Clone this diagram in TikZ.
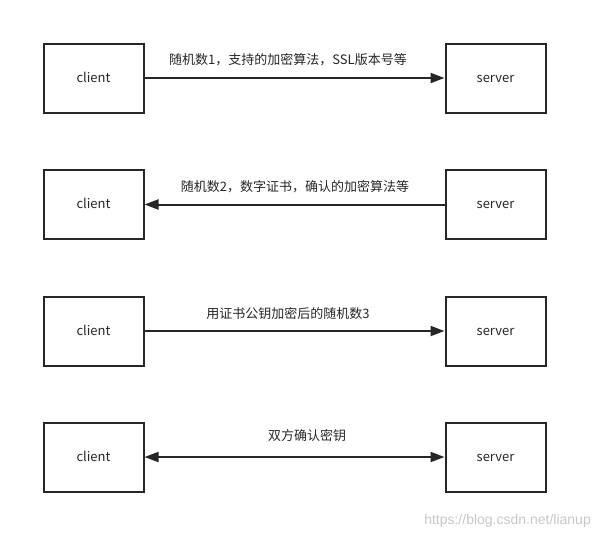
\documentclass[tikz,border=0pt]{standalone}
\usepackage{fontspec}
\setmainfont{Noto Sans CJK SC}
\newfontfamily\wmfont{Liberation Sans}
\usetikzlibrary{arrows.meta}
\begin{document}
\begin{tikzpicture}[x=1pt,y=-1pt,
  box/.style={draw=black!85,line width=2pt,minimum width=100pt,minimum height=69pt,inner sep=0pt,text height=9.5pt,text depth=1pt,font=\fontsize{13}{15}\selectfont,text=black!85},
  msg/.style={draw=black!85,line width=2pt,-{Triangle[length=14pt,width=10pt]}},
  lbl/.style={font=\fontsize{13}{15}\selectfont,text=black!85,inner sep=0pt}]
\useasboundingbox (0,0) rectangle (596,538);
% row 1
\node[box] (c1) at (93.5,78) {client};
\node[box] (s1) at (495.5,78) {server};
\draw[msg] (c1) -- (s1);
\node[lbl] (l1) at (288,60) {随机数1，支持的加密算法，SSL版本号等};
% row 2
\node[box] (c2) at (93.5,204.5) {client};
\node[box] (s2) at (495.5,204.5) {server};
\draw[msg] (s2) -- (c2);
\node[lbl] (l2) at (295,187) {随机数2，数字证书，确认的加密算法等};
% row 3
\node[box] (c3) at (93.5,331) {client};
\node[box] (s3) at (495.5,331) {server};
\draw[msg] (c3) -- (s3);
\node[lbl] (l3) at (288,314) {用证书公钥加密后的随机数3};
% row 4
\node[box] (c4) at (93.5,457) {client};
\node[box] (s4) at (495.5,457) {server};
\draw[msg,{Triangle[length=14pt,width=10pt]}-{Triangle[length=14pt,width=10pt]}] (c4) -- (s4);
\node[lbl] (l4) at (307,436) {双方确认密钥};
% watermark
\node[font=\wmfont\fontsize{14}{16}\selectfont,text=black!22,inner sep=0pt,anchor=east] (wm) at (591,521) {https://blog.csdn.net/lianup};
\end{tikzpicture}
\end{document}
